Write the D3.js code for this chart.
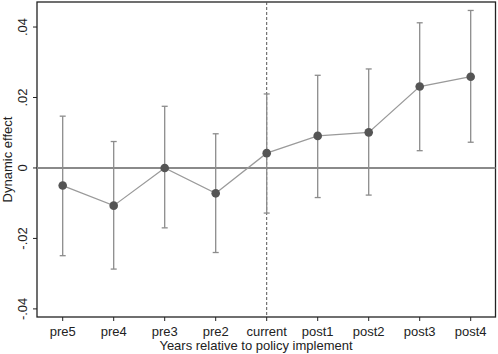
<!DOCTYPE html>
<html>
<head>
<meta charset="utf-8">
<script src="https://cdn.jsdelivr.net/npm/d3@7"></script>
<style>
  body { margin: 0; background: #fff; }
  svg { display: block; font-family: "Liberation Sans", Arial, sans-serif; }
</style>
</head>
<body>
<div id="chart"></div>
<script>
// Data
const periods = ["pre5", "pre4", "pre3", "pre2", "current", "post1", "post2", "post3", "post4"];
const effects = [-0.0050, -0.0107, 0.0000, -0.0072, 0.0042, 0.0091, 0.0101, 0.0231, 0.0259];
const ciUpper = [0.0147, 0.0075, 0.0175, 0.0097, 0.0210, 0.0263, 0.0281, 0.0412, 0.0447];
const ciLower = [-0.0249, -0.0287, -0.0170, -0.0240, -0.0128, -0.0084, -0.0077, 0.0049, 0.0073];
const yTicks = [-0.04, -0.02, 0, 0.02, 0.04];
const yTickLabels = ["-.04", "-.02", "0", ".02", ".04"];

const width = 498, height = 354;
const frame = { left: 37, right: 495.5, top: 2, bottom: 317 };

const svg = d3.select("#chart").append("svg")
    .attr("width", width)
    .attr("height", height);

const x = d3.scalePoint()
    .domain(periods)
    .range([62.7, 470.7]);

const y = d3.scaleLinear()
    .domain([-0.0423, 0.0471])
    .range([frame.bottom, frame.top]);

// frame
svg.append("rect")
    .attr("x", frame.left)
    .attr("y", frame.top)
    .attr("width", frame.right - frame.left)
    .attr("height", frame.bottom - frame.top)
    .attr("fill", "none")
    .attr("stroke", "#222")
    .attr("stroke-width", 1.3);

// zero line
svg.append("line")
    .attr("x1", frame.left).attr("x2", frame.right)
    .attr("y1", y(0)).attr("y2", y(0))
    .attr("stroke", "#8a8a8a")
    .attr("stroke-width", 2);

// policy line
svg.append("line")
    .attr("x1", x("current")).attr("x2", x("current"))
    .attr("y1", frame.top).attr("y2", frame.bottom)
    .attr("stroke", "#555")
    .attr("stroke-width", 1)
    .attr("stroke-dasharray", "3,2");

// y axis ticks
const yAxis = svg.append("g");
yAxis.selectAll("line")
    .data(yTicks)
    .join("line")
    .attr("x1", frame.left - 4).attr("x2", frame.left)
    .attr("y1", d => y(d)).attr("y2", d => y(d))
    .attr("stroke", "#222");
yAxis.selectAll("text")
    .data(yTicks)
    .join("text")
    .attr("transform", d => `translate(27,${y(d)}) rotate(-90)`)
    .attr("text-anchor", "middle")
    .style("font-size", "13px")
    .style("fill", "#222")
    .text((d, i) => yTickLabels[i]);

// x axis ticks
const xAxis = svg.append("g");
xAxis.selectAll("line")
    .data(periods)
    .join("line")
    .attr("x1", d => x(d)).attr("x2", d => x(d))
    .attr("y1", frame.bottom).attr("y2", frame.bottom + 4)
    .attr("stroke", "#222");
xAxis.selectAll("text")
    .data(periods)
    .join("text")
    .attr("x", d => x(d))
    .attr("y", 336)
    .attr("text-anchor", "middle")
    .style("font-size", "13px")
    .style("fill", "#222")
    .text(d => d);

// axis titles
svg.append("text")
    .attr("x", 256)
    .attr("y", 350)
    .attr("text-anchor", "middle")
    .style("font-size", "13px")
    .style("fill", "#222")
    .text("Years relative to policy implement");

svg.append("text")
    .attr("transform", `translate(12,${(frame.top + frame.bottom) / 2}) rotate(-90)`)
    .attr("text-anchor", "middle")
    .style("font-size", "13px")
    .style("fill", "#222")
    .text("Dynamic effect");

// error bars
const bars = svg.append("g")
    .attr("stroke", "#8c8c8c")
    .attr("stroke-width", 1.3);
bars.selectAll("line.ci")
    .data(periods)
    .join("line")
    .attr("class", "ci")
    .attr("x1", d => x(d)).attr("x2", d => x(d))
    .attr("y1", (d, i) => y(ciLower[i])).attr("y2", (d, i) => y(ciUpper[i]));
bars.selectAll("line.cap-top")
    .data(periods)
    .join("line")
    .attr("class", "cap-top")
    .attr("x1", d => x(d) - 3).attr("x2", d => x(d) + 3)
    .attr("y1", (d, i) => y(ciUpper[i])).attr("y2", (d, i) => y(ciUpper[i]));
bars.selectAll("line.cap-bot")
    .data(periods)
    .join("line")
    .attr("class", "cap-bot")
    .attr("x1", d => x(d) - 3).attr("x2", d => x(d) + 3)
    .attr("y1", (d, i) => y(ciLower[i])).attr("y2", (d, i) => y(ciLower[i]));

// connecting line
const line = d3.line()
    .x((d, i) => x(periods[i]))
    .y(d => y(d));
svg.append("path")
    .datum(effects)
    .attr("d", line)
    .attr("fill", "none")
    .attr("stroke", "#9a9a9a")
    .attr("stroke-width", 1.2);

// points
svg.selectAll("circle")
    .data(effects)
    .join("circle")
    .attr("cx", (d, i) => x(periods[i]))
    .attr("cy", d => y(d))
    .attr("r", 4.3)
    .attr("fill", "#555");
</script>
</body>
</html>
